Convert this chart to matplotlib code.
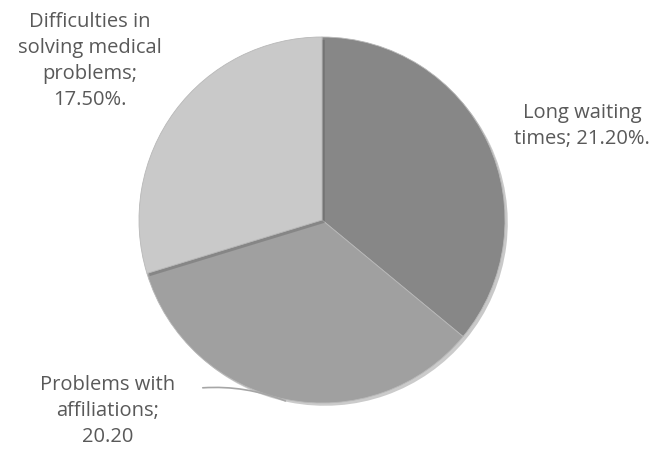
import matplotlib.pyplot as plt
import matplotlib.patheffects as pe

labels = ["Long waiting\ntimes; 21.20%.",
          "Problems with\naffiliations;\n20.20",
          "Difficulties in\nsolving medical\nproblems;\n17.50%."]
values = [21.20, 20.20, 17.50]
colours = ["#878787", "#a0a0a0", "#c9c9c9"]

W, H = 651, 450
fig = plt.figure(figsize=(W / 100, H / 100), dpi=100)
ax = fig.add_axes([0, 0, 1, 1])

# pixel style coords (y measured from bottom)
cx, cy, r = 322, H - 220, 183
wedges, _ = ax.pie(values, colors=colours, startangle=90, counterclock=False,
                   center=(cx, cy), radius=r,
                   wedgeprops=dict(linewidth=0.6, edgecolor="#b8b8b8"))
for w in wedges:
    w.set_path_effects([pe.SimplePatchShadow(offset=(2, -2), alpha=0.25), pe.Normal()])

ax.set_xlim(0, W)
ax.set_ylim(0, H)
ax.set_aspect("equal")
ax.axis("off")

txt = dict(fontsize=14.5, color="#595959", ha="center", va="center",
           family="Open Sans", linespacing=1.42)
ax.text(582, H - 126, labels[0], **txt)
ax.text(90, H - 61, labels[2], **txt)
ax.text(108, H - 411, labels[1], **txt)

# leader line for the bottom label
ax.annotate("", xy=(288, H - 402), xytext=(200, H - 388),
            arrowprops=dict(arrowstyle="-", color="#a6a6a6", lw=1.2,
                            connectionstyle="arc3,rad=-0.12"))

fig.savefig("out.png", dpi=100)
